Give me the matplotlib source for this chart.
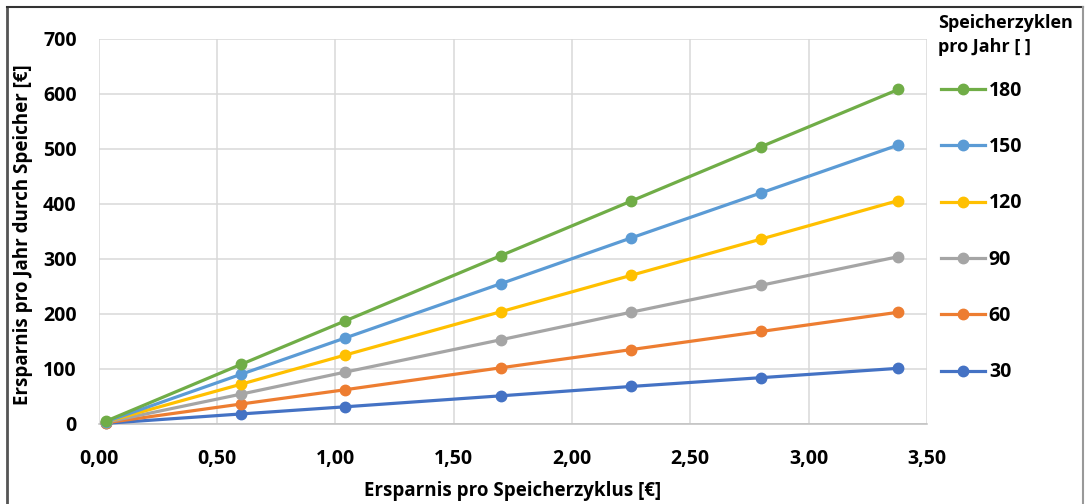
import matplotlib.pyplot as plt
from matplotlib.lines import Line2D

# Daten
ersparnis_zyklus = [0.03, 0.60, 1.04, 1.70, 2.25, 2.80, 3.38]
zyklen = [30, 60, 90, 120, 150, 180]
ersparnis_30 = [1, 18, 31, 51, 68, 84, 101]
ersparnis_60 = [2, 36, 62, 102, 135, 168, 203]
ersparnis_90 = [3, 54, 94, 153, 203, 252, 304]
ersparnis_120 = [4, 72, 125, 204, 270, 336, 406]
ersparnis_150 = [4, 90, 156, 255, 338, 420, 507]
ersparnis_180 = [5, 108, 187, 306, 405, 504, 608]
farben = ['#4472c4', '#ed7d31', '#a5a5a5', '#ffc000', '#5b9bd5', '#70ad47']

xticks = [0, 0.5, 1.0, 1.5, 2.0, 2.5, 3.0, 3.5]
yticks = [0, 100, 200, 300, 400, 500, 600, 700]

plt.rcParams['font.family'] = ['Open Sans', 'DejaVu Sans']

fig = plt.figure(figsize=(10.85, 5.04), dpi=100)
ax = fig.add_axes([0.0912, 0.159, 0.763, 0.764])

reihen = [ersparnis_30, ersparnis_60, ersparnis_90,
          ersparnis_120, ersparnis_150, ersparnis_180]
handles = []
for z, werte, farbe in zip(zyklen, reihen, farben):
    h, = ax.plot(ersparnis_zyklus, werte, color=farbe, lw=2.3,
                 marker='o', markersize=7.5, label=str(z), clip_on=False,
                 zorder=3)
    handles.append(h)

ax.set_xlim(0, 3.5)
ax.set_ylim(0, 700)
ax.set_xticks(xticks)
ax.set_yticks(yticks)
ax.set_xticklabels([f'{t:.2f}'.replace('.', ',') for t in xticks])
ax.set_yticklabels([str(t) for t in yticks])
ax.tick_params(length=0, labelsize=14, pad=16)
for lab in ax.get_xticklabels() + ax.get_yticklabels():
    lab.set_fontweight('bold')
ax.tick_params(axis='x', pad=18)

ax.grid(True, color='#d9d9d9', lw=1.1, zorder=0)
ax.set_axisbelow(True)
for s in ['top', 'right', 'left']:
    ax.spines[s].set_visible(False)
ax.spines['bottom'].set_color('#bfbfbf')
ax.spines['bottom'].set_linewidth(1.1)

fig.text(0.472, 0.026, 'Ersparnis pro Speicherzyklus [€]', ha='center',
         va='center', fontsize=13.5, fontweight='bold')
fig.text(0.021, 0.535, 'Ersparnis pro Jahr durch Speicher [€]', ha='center',
         va='center', rotation=90, fontsize=13.5, fontweight='bold')

# Legendentitel separat, damit die Abstände passen
fig.text(0.8645, 0.931, 'Speicherzyklen\npro Jahr [ ]', ha='left',
         va='center', fontsize=13, fontweight='bold', linespacing=1.45)
leg = fig.legend(handles[::-1], [h.get_label() for h in handles[::-1]],
                 loc='upper left', bbox_to_anchor=(0.8673, 0.840),
                 frameon=False, borderpad=0, borderaxespad=0,
                 prop={'size': 14, 'weight': 'bold'},
                 handlelength=2.26, handletextpad=0.2, labelspacing=1.87)

# Rahmen um das Bild
fig.add_artist(Line2D([0.0065, 0.0065], [0.0, 0.986], color='#555555', lw=2,
                      transform=fig.transFigure))
fig.add_artist(Line2D([0.0065, 0.9985], [0.986, 0.986], color='#333333', lw=1.5,
                      transform=fig.transFigure))
fig.add_artist(Line2D([0.9985, 0.9985], [0.0, 0.986], color='#999999', lw=1.5,
                      transform=fig.transFigure))

fig.savefig('out.png', dpi=100)
